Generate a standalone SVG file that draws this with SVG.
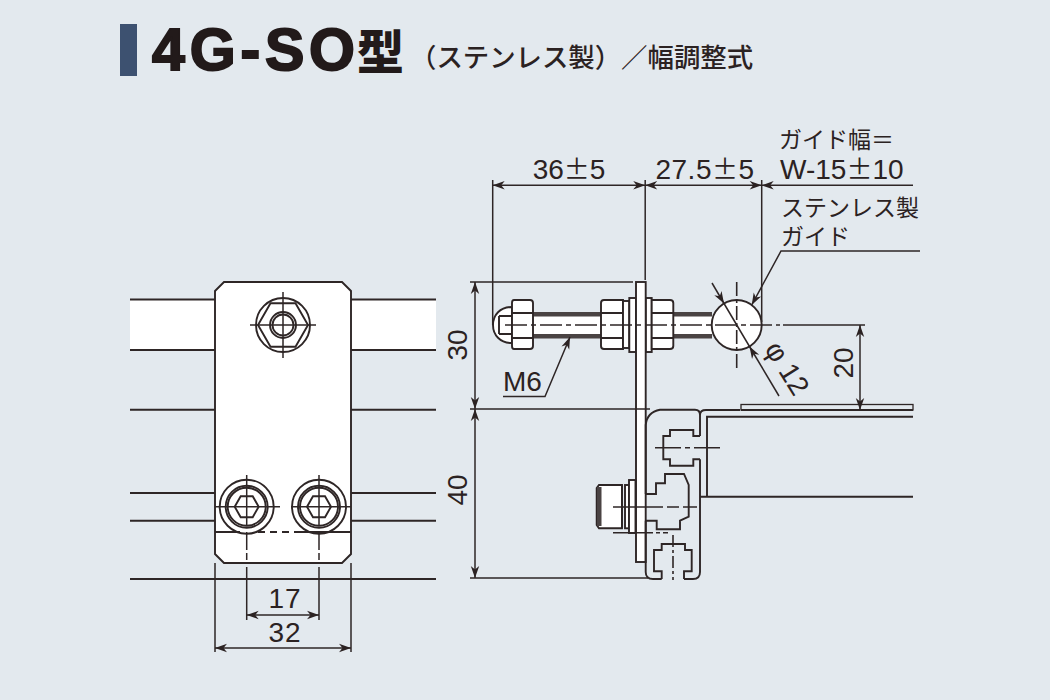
<svg xmlns="http://www.w3.org/2000/svg" width="1050" height="700" viewBox="0 0 1050 700">
<defs>
<marker id="ah" viewBox="-13 -5 14 10" refX="0" refY="0" markerWidth="14" markerHeight="10" markerUnits="userSpaceOnUse" orient="auto-start-reverse"><path d="M0,0 L-12,-4.200 L-8.500,0 L-12,4.200 Z" fill="#2b2222"/></marker>
<g id="hexb"><circle r="27" class="l"/><circle r="21" class="l"/><circle r="19" class="l"/><path class="l" d="M-12,0 L-6,-10.500 L6,-10.500 L12,0 L6,10.500 L-6,10.500 Z"/></g>
</defs>
<style>
.l{fill:none;stroke:#2e2626;stroke-width:1.9}
.w{fill:#fff;stroke:#2e2626;stroke-width:1.9}
.th{fill:none;stroke:#2e2626;stroke-width:1.5}
.cl{fill:none;stroke:#2e2626;stroke-width:1.6}
.dl{fill:none;stroke:#2e2626;stroke-width:1.5}
.t{font-family:"Liberation Sans","Noto Sans CJK JP",sans-serif;font-size:28px;fill:#2b2222}
.pm{font-family:"Noto Sans CJK JP",sans-serif;font-size:26px}
.j{font-family:"Noto Sans CJK JP",sans-serif;font-size:23px;fill:#2b2222}
</style>
<rect width="1050" height="700" fill="#e3e9ee"/>
<g id="title">
<rect x="120" y="24" width="17" height="52" fill="#3d5170"/>
<text x="152" y="70" font-family="'Liberation Sans',sans-serif" font-weight="700" font-size="59" textLength="203" lengthAdjust="spacing" fill="#221a1a" stroke="#221a1a" stroke-width="2">4G-SO</text>
<text x="357" y="69" font-family="'Noto Sans CJK JP',sans-serif" font-weight="900" font-size="47" fill="#221a1a">型</text>
<text x="410" y="67" font-family="'Noto Sans CJK JP',sans-serif" font-weight="500" font-size="26.4" fill="#2b2222">（ステンレス製）／幅調整式</text>
</g>
<g id="rails-front">
<rect x="130" y="300" width="306" height="50" fill="#fff"/>
<path class="l" d="M130,299.500H436M130,350H436M130,409.700H436M130,493H436M130,520.700H436M130,579H436"/>
</g>
<g id="front-plate">
<path class="w" d="M215,291L224,282H342L351,291V554L342,563H224L215,554Z"/>
<path class="l" d="M215,532H240M300,532H351"/>
<path class="l" d="M258,532H300" stroke-dasharray="7 5"/>
</g>
<g id="bolt-top">
<circle cx="283" cy="325" r="27" class="l"/>
<path class="l" d="M308,325L295.500,346.700H270.500L258,325L270.500,303.300H295.500Z"/>
<circle cx="283" cy="325" r="13" class="l"/><circle cx="283" cy="325" r="10.500" class="l"/>
<path class="th" d="M250,325H316M283,292V358"/>
</g>
<g id="bolt-left">
<use href="#hexb" x="246.700" y="506.700"/>
<path class="th" d="M215,506.700H280M246.700,475V525M246.700,532V550M246.700,553V560"/>
</g>
<g id="bolt-right">
<use href="#hexb" x="319" y="506.700"/>
<path class="th" d="M291,506.700H351M319,475V525M319,532V550M319,553V560"/>
</g>
<g id="side-bolt">
<rect x="533" y="312" width="68" height="26" fill="#fff"/>
<rect x="673" y="312" width="39" height="26" fill="#fff"/>
<path fill="#4a4343" d="M533,312h68v4.500h-68zM533,334h68v4.500h-68zM673,312h39v4.500h-39zM673,334h39v4.500h-39z"/>
<path class="w" d="M512,307C500,307 493,315 493,325C493,335 500,343 512,343Z"/>
<path class="l" d="M499,316V334M499,316H512M499,334H512" stroke-width="2.500"/>
<path class="w" d="M514,300H530Q533,300 533,303V346Q533,349 530,349H514Q512,349 512,346V303Q512,300 514,300Z"/>
<path class="l" d="M512,313H533M512,338H533"/>
<path class="w" d="M604,300H623V349H604Q601,349 601,346V303Q601,300 604,300Z"/>
<path class="l" d="M601,313H623M601,338H623"/>
<rect x="623" y="301" width="6.300" height="47" class="w"/>
<rect x="629.300" y="298" width="6.700" height="54" class="w"/>
<rect x="645.700" y="298" width="6" height="54" class="w"/>
<path class="w" d="M651.700,300H670Q673.300,300 673.300,303V346Q673.300,349 670,349H651.700Z"/>
<path class="l" d="M651.700,313H673M651.700,338H673"/>
</g>
<g id="side-plate">
<rect x="636" y="282" width="9.700" height="280" class="w"/>
</g>
<g id="ball">
<circle cx="736.700" cy="325" r="25" class="w"/>
</g>
<g id="rail-side">
<path class="l" d="M645.700,494V425Q647,412 660,409.700H695Q700,409.700 700,415V436M700,459.300V572Q700,579 693,579H684M661.700,579H653Q645.700,579 645.700,572V520.700"/>
<path class="l" d="M700,415Q700,410 706,410H740"/>
<path class="l" d="M913,416.700H707V496.700H913M700,496.700H707"/>
<rect x="741" y="404.500" width="172" height="5.500" fill="none" stroke="#2e2626" stroke-width="1.300"/>
<path d="M741,410H913" stroke="#2e2626" stroke-width="2.200"/>
<path class="l" d="M700,436H693.300V430H670V436H663.300V459.300H670V465.700H693.300V459.300H700"/>
<path class="l" d="M645.700,494H656V483.300H665V474H684L688.700,485V516.700L680,520.700V529.300H656.700V520.700H645.700"/>
<path class="l" d="M661.700,579V571.300H654V550H661.700V544H685V550H691.700V571.300H684V579"/>
</g>
<g id="side-head">
<path class="w" d="M599,485H622V528.300H599L596.700,525V488Z"/>
<rect x="597" y="487" width="4.500" height="39" fill="#4a4343"/>
<path class="l" d="M622,485V528.300"/>
<rect x="625" y="485" width="4" height="43.300" class="w"/>
<rect x="629" y="480" width="6.500" height="53" class="w"/>
</g>
<g id="centerlines">
<path class="cl" d="M505,325H780" stroke-dasharray="22 4 5 4"/>
<path class="cl" d="M783,325H865"/>
<path class="cl" d="M736.700,282V368" stroke-dasharray="14 3 4 3"/>
<path class="cl" d="M655,447.700H723" stroke-dasharray="26 4 5 4"/>
<path class="cl" d="M613,507H697" stroke-dasharray="50 4 12 4"/>
<path class="cl" d="M613,532.700H668" stroke-dasharray="40 3 4 3"/>
<path class="cl" d="M673,535V580" stroke-dasharray="12 3 3 3"/>
</g>
<g id="connectors">
<path class="dl" d="M246.700,567V620M319,567V620M215,563V652M351,563V652"/>
<path class="dl" marker-start="url(#ah)" marker-end="url(#ah)" d="M246.700,615H319"/>
<path class="dl" marker-start="url(#ah)" marker-end="url(#ah)" d="M215,648H351"/>
<path class="dl" d="M492.700,180V325M645.200,180V280M761.700,180V322M470,282H633M470,409H650M470,578H648"/>
<path class="dl" marker-start="url(#ah)" marker-end="url(#ah)" d="M492.700,185.300H645.200"/>
<path class="dl" marker-start="url(#ah)" marker-end="url(#ah)" d="M645.200,185.300H761.700"/>
<path class="dl" marker-start="url(#ah)" d="M761.700,185.300H913"/>
<path class="dl" marker-start="url(#ah)" marker-end="url(#ah)" d="M475,282V409"/>
<path class="dl" marker-start="url(#ah)" marker-end="url(#ah)" d="M475,409V578"/>
<path class="dl" marker-start="url(#ah)" marker-end="url(#ah)" d="M860,325V410"/>
<path class="dl" marker-end="url(#ah)" d="M503,396.500H545L570,337"/>
<path class="dl" marker-end="url(#ah)" d="M920,251H781L751.700,305"/>
<path class="dl" marker-end="url(#ah)" d="M712,283L724,303.500"/>
<path class="dl" d="M724,303.500L749.500,346.500"/>
<path class="dl" marker-end="url(#ah)" d="M779,396L749.500,346.500"/>
</g>
<g id="labels">
<text class="t" x="285" y="608" text-anchor="middle" letter-spacing="1">17</text>
<text class="t" x="285" y="642" text-anchor="middle" letter-spacing="1">32</text>
<text class="t" x="569" y="179" text-anchor="middle">36<tspan class="pm">±</tspan>5</text>
<text class="t" x="705" y="179" text-anchor="middle" letter-spacing="0.500">27.5<tspan class="pm">±</tspan>5</text>
<text class="j" x="779" y="148" font-size="22">ガイド幅＝</text>
<text class="t" x="780" y="179">W-15<tspan class="pm">±</tspan>10</text>
<text class="j" x="781" y="216">ステンレス製</text>
<text class="j" x="781" y="245">ガイド</text>
<text class="t" x="503" y="391">M6</text>
<text class="t" transform="translate(467,345) rotate(-90)" text-anchor="middle">30</text>
<text class="t" transform="translate(467,490) rotate(-90)" text-anchor="middle">40</text>
<text class="t" transform="translate(853,363) rotate(-90)" text-anchor="middle">20</text>
<text class="t" transform="translate(764,349) rotate(58)">φ 12</text>
</g>
</svg>
